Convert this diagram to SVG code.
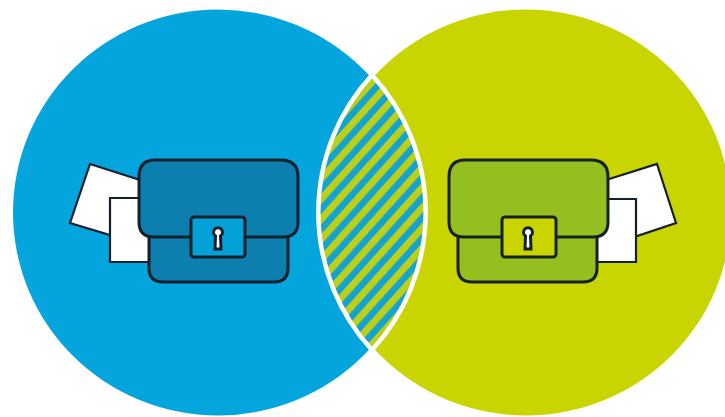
<svg xmlns="http://www.w3.org/2000/svg" width="725" height="417" viewBox="0 0 725 417">
<defs>
<pattern id="stripes" patternUnits="userSpaceOnUse" width="13.500" height="13.500" patternTransform="rotate(-48 372 212)">
<rect width="13.500" height="13.500" fill="#14a2d0"/>
<rect width="13.500" height="7" fill="#bad01a"/>
</pattern>
</defs>
<style>
.o{stroke:#15202b;stroke-width:3;stroke-linejoin:round}
.p{fill:#fff;stroke:#15202b;stroke-width:2.2;stroke-linejoin:miter}
.k{fill:#fff;stroke:#15202b;stroke-width:3}
</style>
<rect width="725" height="417" fill="#fff"/>
<g id="circle-left"><ellipse cx="218" cy="212.500" rx="205" ry="203" fill="#04a5dd"/></g>
<g id="circle-right"><ellipse cx="526" cy="212.500" rx="205" ry="203" fill="#c8d500"/></g>
<g id="overlap"><path d="M372 75 A203 203 0 0 0 372 350 A203 203 0 0 0 372 75Z" fill="url(#stripes)" stroke="#fff" stroke-width="4.500"/></g>
<g id="case-left">
<path class="p" d="M90 164 L140 180 L140 225 L110 235 L70 223Z"/>
<path class="p" d="M150 262 H110 V198 H150"/>
<path class="o" fill="#0d7fae" d="M149 230 H288 V268 Q288 282 274 282 H163 Q149 282 149 268Z"/>
<path class="o" fill="#0d7fae" d="M155 160 H281 Q298 160 298 177 V222 Q298 237 283 237 H154 Q139 237 139 222 V177 Q139 160 155 160Z"/>
<rect class="o" x="191" y="217" width="54" height="40" rx="3" fill="#04a0d8"/>
<path class="k" d="M215.500 236 A4.500 4.500 0 1 1 220.500 236 L221 249 H215Z"/>
</g>
<g id="case-right">
<path class="p" d="M657 164 L676 223 L637 236 L606 225 L606 180Z"/>
<path class="p" d="M597 199 H636 V262 H597"/>
<path class="o" fill="#94bf1f" d="M458 230 H597 V268 Q597 282 583 282 H472 Q458 282 458 268Z"/>
<path class="o" fill="#94bf1f" d="M465 160 H591 Q608 160 608 177 V222 Q608 237 593 237 H464 Q449 237 449 222 V177 Q449 160 465 160Z"/>
<rect class="o" x="502" y="217" width="54" height="40" rx="3" fill="#c8d500"/>
<path class="k" d="M525.500 236 A4.500 4.500 0 1 1 530.500 236 L531 249 H525Z"/>
</g>
<g id="connectors"></g>
</svg>
